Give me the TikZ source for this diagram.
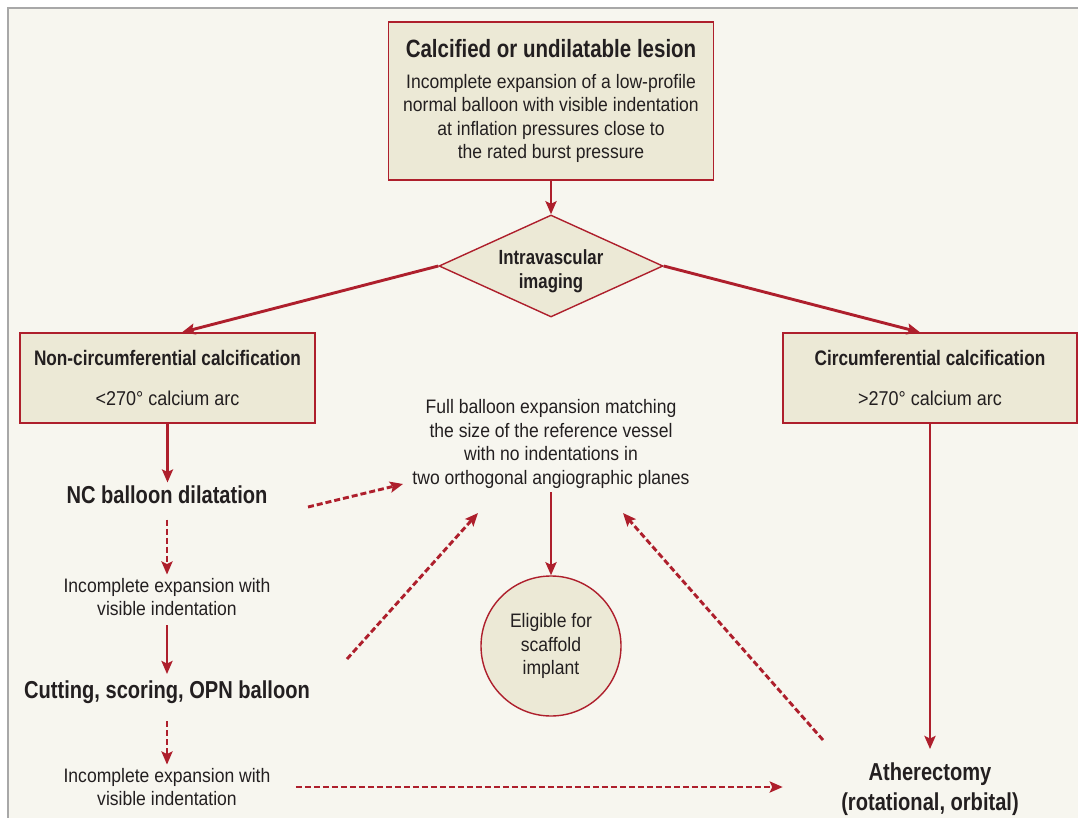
\documentclass[tikz,border=0pt]{standalone}
\usepackage{fontspec}
\setmainfont{Liberation Sans}[FakeStretch=0.9]
\newfontfamily\hdfont{Liberation Sans Bold}[FakeStretch=0.82]
\usetikzlibrary{arrows.meta,shapes.geometric,positioning}

\definecolor{flowred}{HTML}{AE1F2C}
\definecolor{boxfill}{HTML}{ECE9D6}
\definecolor{paper}{HTML}{F7F6EF}
\definecolor{framegray}{HTML}{A8A8A8}
\definecolor{inkgray}{HTML}{231F20}

\tikzset{
  box/.style={draw=flowred, fill=boxfill, line width=1.4pt, align=center, text=inkgray},
  decision/.style={diamond, draw=flowred, fill=boxfill, line width=1.4pt, align=center,
    text=inkgray, aspect=2.2, inner sep=0pt, minimum width=224, minimum height=102,
    font=\hdfont\fontsize{20.5}{24}\selectfont},
  stage/.style={align=center, text=inkgray, font=\hdfont\fontsize{24.5}{30}\selectfont},
  note/.style={align=center, text=inkgray, font=\fontsize{19.5}{23.5}\selectfont},
  link/.style={draw=flowred, line width=2.9pt, -{Stealth[length=13pt,width=11pt,inset=2.5pt]}},
  dlink/.style={link, dash pattern=on 6pt off 3pt},
}

\begin{document}
\begin{tikzpicture}[x=1pt, y=-1pt]

  % paper and frame
  \useasboundingbox (0,0) rectangle (1078,818);
  \fill[paper] (8,8) rectangle (1078,818);
  \draw[framegray, line width=1.5pt] (8,818) -- (8,8) -- (1078,8);

  % top of the chart
  \node[box, minimum width=325, minimum height=158, font=\fontsize{19.5}{23.5}\selectfont]
    (lesion) at (551,101)
    {{\hdfont\fontsize{25}{30}\selectfont Calcified or undilatable lesion}\\[7pt]
     Incomplete expansion of a low-profile\\
     normal balloon with visible indentation\\
     at inflation pressures close to\\
     the rated burst pressure};
  \node[decision] (imaging) at (551,266) {\rule{0pt}{25pt}Intravascular\\ imaging};

  % the two branches
  \node[box, minimum width=295, minimum height=90, font=\fontsize{20}{23.5}\selectfont]
    (noncirc) at (167.5,378)
    {{\hdfont\fontsize{21}{25}\selectfont Non-circumferential calcification}\\[16pt] <270° calcium arc};
  \node[box, minimum width=294, minimum height=90, font=\fontsize{20}{23.5}\selectfont]
    (circ) at (930,378)
    {{\hdfont\fontsize{21}{25}\selectfont Circumferential calcification}\\[16pt] >270° calcium arc};

  % left column
  \node[stage] (ncb) at (167,495) {NC balloon dilatation};
  \node[note] (inc1) at (167,597) {Incomplete expansion with\\ visible indentation};
  \node[stage] (cut) at (167,692) {Cutting, scoring, OPN balloon};
  \node[note] (inc2) at (167,787) {Incomplete expansion with\\ visible indentation};

  % right column and centre
  \node[stage] (ather) at (930,789) {Atherectomy\\ (rotational, orbital)};
  \node[note, font=\fontsize{19.5}{23.7}\selectfont] (full) at (551,444)
    {Full balloon expansion matching\\ the size of the reference vessel\\
     with no indentations in\\ two orthogonal angiographic planes};
  \node[circle, draw=flowred, fill=boxfill, line width=1.4pt, minimum size=140, inner sep=0pt,
    align=center, text=inkgray, font=\fontsize{19.5}{23.5}\selectfont]
    (scaffold) at (551,646) {Eligible for\\ scaffold\\ implant};

  % free ends of the dashed arrows
  \coordinate (ncTail) at (308,507);
  \coordinate (ncTip) at (403,484);
  \coordinate (cutTail) at (347,659);
  \coordinate (cutTip) at (478,513);
  \coordinate (atherTail) at (823,740);
  \coordinate (atherTip) at (623,513);

  % connectors
  \draw[link] (lesion.south) -- (imaging.north);
  \draw[link] (imaging.west) -- ([xshift=14.5pt]noncirc.north);
  \draw[link] (imaging.east) -- ([xshift=-10pt]circ.north);
  \draw[link] (noncirc.south) -- (noncirc.south |- ncb.north);
  \draw[dlink, shorten <=12pt] (ncb.south) -- (inc1.north);
  \draw[link, shorten <=6pt, shorten >=3pt] (inc1.south) -- (cut.north);
  \draw[dlink, shorten <=14pt] (cut.south) -- (inc2.north);
  \draw[dlink, shorten <=22pt, shorten >=55pt] (inc2.east) -- (inc2.east -| ather.west);
  \draw[link, shorten >=10pt] (circ.south) -- (circ.south |- ather.north);
  \draw[link] (full.south) -- (scaffold.north);
  \draw[dlink] (ncTail) -- (ncTip);
  \draw[dlink] (cutTail) -- (cutTip);
  \draw[dlink] (atherTail) -- (atherTip);

\end{tikzpicture}
\end{document}
